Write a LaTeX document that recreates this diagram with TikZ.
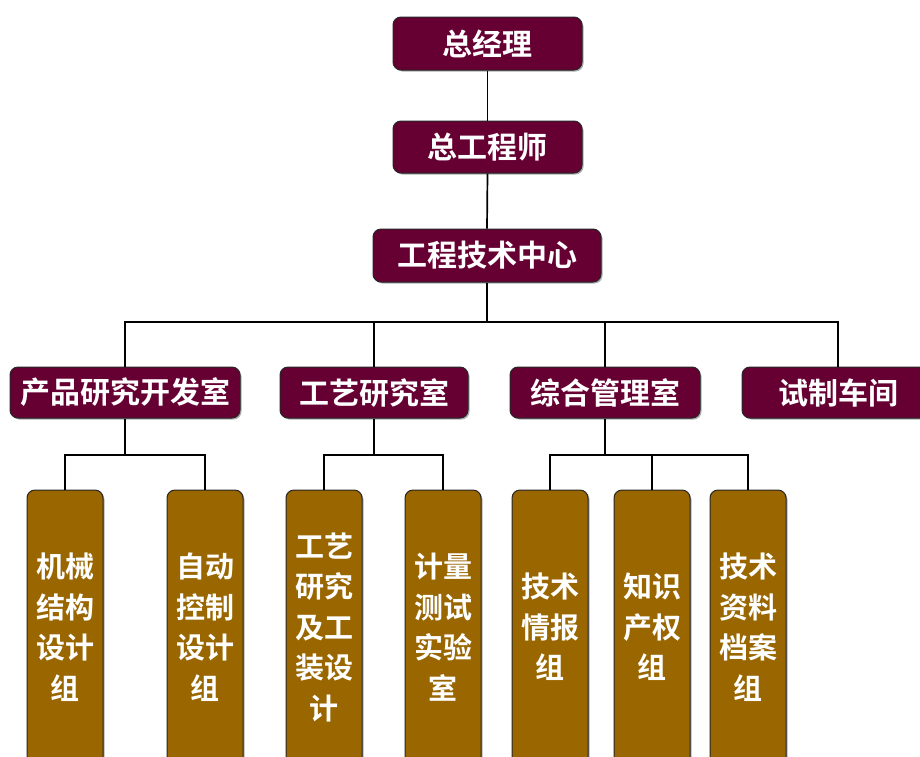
\documentclass[tikz,border=0pt]{standalone}
\usepackage{fontspec}
\newfontfamily\cjk{Noto Sans CJK SC}[BoldFont={Noto Sans CJK SC Bold}]
\usetikzlibrary{shadows}
\definecolor{maroonbox}{HTML}{660033}
\definecolor{brownbox}{HTML}{996600}
\begin{document}
\begin{tikzpicture}[x=1pt,y=-1pt,
  base/.style={draw=black!85, line width=1pt, rounded corners=8pt,
    drop shadow={shadow xshift=1.5pt, shadow yshift=-1.5pt, fill=black!45, opacity=0.7},
    text=white, font=\cjk\bfseries\fontsize{30}{40}\selectfont, inner sep=0pt, align=center},
  topbox/.style={base, fill=maroonbox},
  lowbox/.style={base, fill=brownbox, minimum width=76pt, minimum height=286pt},
  lowtext/.style={text=white, font=\cjk\bfseries\fontsize{29}{40.5}\selectfont, align=center, inner sep=0pt},
  conn/.style={draw=black, line width=1.7pt}]
\useasboundingbox (0,0) rectangle (920,756);
\clip (0,0) rectangle (920,756);
\fill[white] (0,0) rectangle (920,756);

% top chain
\node[topbox, minimum width=189pt, minimum height=53pt] (gm) at (487.5,43.5) {总经理};
\node[topbox, minimum width=189pt, minimum height=52pt] (ce) at (487.5,147) {总工程师};
\node[topbox, minimum width=228pt, minimum height=53pt] (tc) at (487,255.5) {工程技术中心};

% departments
\node[topbox, minimum width=230pt, minimum height=51pt] (d1) at (125,392.5) {产品研究开发室};
\node[topbox, minimum width=188pt, minimum height=51pt] (d2) at (374,392.5) {工艺研究室};
\node[topbox, minimum width=190pt, minimum height=51pt] (d3) at (605,392.5) {综合管理室};
\node[topbox, minimum width=192pt, minimum height=51pt] (d4) at (838,392.5) {试制车间};

% lower groups
\node[lowbox] (b1) at (65,633) {};
\node[lowbox] (b2) at (205,633) {};
\node[lowbox] (b3) at (324,633) {};
\node[lowbox] (b4) at (443,633) {};
\node[lowbox] (b5) at (550,633) {};
\node[lowbox] (b6) at (652,633) {};
\node[lowbox] (b7) at (748,633) {};

\node[lowtext] (t1) at (65,627) {机械\\结构\\设计\\组};
\node[lowtext] (t2) at (205,627) {自动\\控制\\设计\\组};
\node[lowtext] (t3) at (324,627) {工艺\\研究\\及工\\装设\\计};
\node[lowtext] (t4) at (443,627) {计量\\测试\\实验\\室};
\node[lowtext] (t5) at (550,627) {技术\\情报\\组};
\node[lowtext] (t6) at (652,627) {知识\\产权\\组};
\node[lowtext] (t7) at (748,627) {技术\\资料\\档案\\组};

% connectors
\draw[conn] (gm.south) -- (ce.north);
\draw[conn] (ce.south) -- (tc.north);
\coordinate (bus) at (487,322);
\draw[conn] (tc.south) -- (bus);
\draw[conn] (bus) -| (d1.north);
\draw[conn] (bus) -| (d4.north);
\draw[conn] (d2.north) -- (d2.north |- bus);
\draw[conn] (d3.north) -- (d3.north |- bus);

\coordinate (bus1) at (125,455);
\draw[conn] (d1.south) -- (bus1);
\draw[conn] (bus1) -| (b1.north);
\draw[conn] (bus1) -| (b2.north);

\coordinate (bus2) at (374,455);
\draw[conn] (d2.south) -- (bus2);
\draw[conn] (bus2) -| (b3.north);
\draw[conn] (bus2) -| (b4.north);

\coordinate (bus3) at (605,455);
\draw[conn] (d3.south) -- (bus3);
\draw[conn] (bus3) -| (b5.north);
\draw[conn] (bus3) -| (b7.north);
\draw[conn] (b6.north) -- (b6.north |- bus3);
\end{tikzpicture}
\end{document}
